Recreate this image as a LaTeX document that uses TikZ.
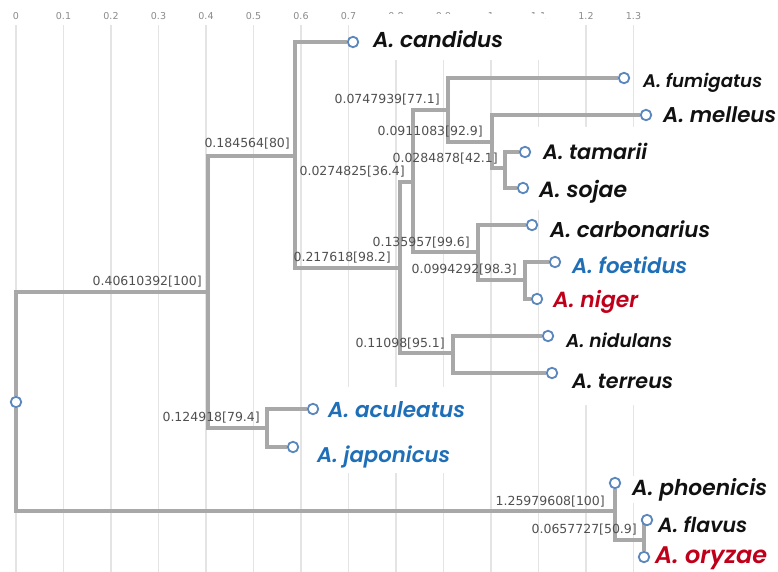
\documentclass[tikz,border=0pt]{standalone}
\usepackage{fontspec}
\usepackage{graphicx}
\setmainfont{DejaVu Sans}
\newfontfamily\spfont{Poppins}[BoldItalicFont={Poppins SemiBold Italic}]
\newfontfamily\numfont{DejaVu Sans}

\definecolor{treegray}{HTML}{A8A8A8}
\definecolor{gridgray}{HTML}{E4E4E4}
\definecolor{tipblue}{HTML}{5A87BD}
\definecolor{spblue}{HTML}{1F6FB8}
\definecolor{spred}{HTML}{C0001A}
\definecolor{spblack}{HTML}{111111}
\definecolor{numgray}{HTML}{505050}
\definecolor{axisgray}{HTML}{8A8A8A}

\pgfdeclarelayer{gridlayer}
\pgfdeclarelayer{masklayer}
\pgfdeclarelayer{treelayer}
\pgfsetlayers{gridlayer,masklayer,treelayer,main}

\tikzset{
  branch/.style={draw=treegray, line width=4pt},
  gridline/.style={draw=gridgray, line width=1.4pt},
  tip/.style={circle, draw=tipblue, fill=white, line width=1.8pt, minimum size=10.5pt, inner sep=0pt},
  taxonlabel/.style={anchor=base west, fill=white, inner sep=2pt},
  brlabel/.style={anchor=east, inner sep=0pt, text=numgray, font=\numfont\fontsize{12.5}{14}\selectfont},
  axislabel/.style={inner sep=0pt, text=axisgray, font=\numfont\fontsize{9.5}{11}\selectfont},
}

% taxon label in bold italic, scaled to span the given width
% #1 name, #2 colour, #3 x, #4 baseline, #5 width, #6 text
\newcommand\taxon[6]{%
  \node[taxonlabel, text=#2] (#1) at (#3,#4)
    {\resizebox{#5pt}{!}{\spfont\bfseries\itshape\fontsize{20}{20}\selectfont #6}};%
}

\begin{document}
\begin{tikzpicture}[x=1pt, y=-1pt]
\useasboundingbox (0,0) rectangle (778,572);

% distance scale: grid lines and their values
\begin{pgfonlayer}{gridlayer}
\foreach \k/\t in {0/0,1/0.1,2/0.2,3/0.3,4/0.4,5/0.5,6/0.6,7/0.7,8/0.8,9/0.9,10/1,11/1.1,12/1.2,13/1.3}{
  \draw[gridline] (16+47.5*\k,25) -- (16+47.5*\k,572);
  \node[axislabel] (ax\k) at (16+47.5*\k,16) {\t};
}
\end{pgfonlayer}

% white text boxes behind the taxon names
\begin{pgfonlayer}{masklayer}
\fill[white] (365,14) rectangle (545,60);
\fill[white] (530,127) -- (778,127) -- (778,405) -- (545,405) -- (545,210) -- (530,210) -- cycle;
\fill[white] (305,387) rectangle (470,473);
\end{pgfonlayer}

% root and internal nodes
\node[tip] (R) at (16,402) {};
\coordinate (A) at (208,292);
\coordinate (B) at (295,156);
\coordinate (C) at (400,268);
\coordinate (D) at (413,182);
\coordinate (E) at (448,110);
\coordinate (F) at (492,142);
\coordinate (G) at (505,168);
\coordinate (H) at (478,252);
\coordinate (I) at (525,280);
\coordinate (J) at (453,353);
\coordinate (K) at (267,428);
\coordinate (L) at (615,511);
\coordinate (M) at (644,540);

% leaves
\node[tip] (tcand) at (353,42) {};
\node[tip] (tfumi) at (624,78) {};
\node[tip] (tmell) at (646,115) {};
\node[tip] (ttama) at (525,152) {};
\node[tip] (tsoja) at (523,188) {};
\node[tip] (tcarb) at (532,225) {};
\node[tip] (tfoet) at (555,262) {};
\node[tip] (tnige) at (537,299) {};
\node[tip] (tnidu) at (548,336) {};
\node[tip] (tterr) at (552,373) {};
\node[tip] (tacul) at (313,409) {};
\node[tip] (tjapo) at (293,447) {};
\node[tip] (tphoe) at (615,483) {};
\node[tip] (tflav) at (647,520) {};
\node[tip] (toryz) at (644,557) {};

% branches
\begin{pgfonlayer}{treelayer}
\draw[branch] (R) |- (A);
\draw[branch] (R) |- (L);
\draw[branch] (A) |- (B);
\draw[branch] (A) |- (K);
\draw[branch] (B) |- (tcand);
\draw[branch] (B) |- (C);
\draw[branch] (C) |- (D);
\draw[branch] (C) |- (J);
\draw[branch] (D) |- (E);
\draw[branch] (D) |- (H);
\draw[branch] (E) |- (tfumi);
\draw[branch] (E) |- (F);
\draw[branch] (F) |- (tmell);
\draw[branch] (F) |- (G);
\draw[branch] (G) |- (ttama);
\draw[branch] (G) |- (tsoja);
\draw[branch] (H) |- (tcarb);
\draw[branch] (H) |- (I);
\draw[branch] (I) |- (tfoet);
\draw[branch] (I) |- (tnige);
\draw[branch] (J) |- (tnidu);
\draw[branch] (J) |- (tterr);
\draw[branch] (K) |- (tacul);
\draw[branch] (K) |- (tjapo);
\draw[branch] (L) -- (tphoe);
\draw[branch] (L) |- (M);
\draw[branch] (M) |- (tflav);
\draw[branch] (M) -- (toryz);
\end{pgfonlayer}

% branch lengths [bootstrap]
\node[brlabel] (bA) at ([shift={(-6,-10)}]A) {0.40610392[100]};
\node[brlabel] (bB) at ([shift={(-5,-12)}]B) {0.184564[80]};
\node[brlabel] (bC) at ([shift={(-9,-10)}]C) {0.217618[98.2]};
\node[brlabel] (bD) at ([shift={(-8,-10)}]D) {0.0274825[36.4]};
\node[brlabel] (bE) at ([shift={(-8,-10)}]E) {0.0747939[77.1]};
\node[brlabel] (bF) at ([shift={(-9,-10)}]F) {0.0911083[92.9]};
\node[brlabel] (bG) at ([shift={(-7,-9)}]G) {0.0284878[42.1]};
\node[brlabel] (bH) at ([shift={(-8,-9)}]H) {0.135957[99.6]};
\node[brlabel] (bI) at ([shift={(-8,-10)}]I) {0.0994292[98.3]};
\node[brlabel] (bJ) at ([shift={(-8,-9)}]J) {0.11098[95.1]};
\node[brlabel] (bK) at ([shift={(-7,-10)}]K) {0.124918[79.4]};
\node[brlabel] (bL) at ([shift={(-10,-9)}]L) {1.25979608[100]};
\node[brlabel] (bM) at ([shift={(-7,-10)}]M) {0.0657727[50.9]};

% taxon names
\taxon{lcand}{spblack}{371}{48}{130}{A. candidus}
\taxon{lfumi}{spblack}{641}{88}{119}{A. fumigatus}
\taxon{lmell}{spblack}{661}{123}{113}{A. melleus}
\taxon{ltama}{spblack}{541}{160}{104}{A. tamarii}
\taxon{lsoja}{spblack}{537}{197}{88}{A. sojae}
\taxon{lcarb}{spblack}{548}{237}{160}{A. carbonarius}
\taxon{lfoet}{spblue}{570}{273}{115}{A. foetidus}
\taxon{lnige}{spred}{551}{307}{85}{A. niger}
\taxon{lnidu}{spblack}{564}{347}{106}{A. nidulans}
\taxon{lterr}{spblack}{570}{388}{101}{A. terreus}
\taxon{lacul}{spblue}{326}{417}{137}{A. aculeatus}
\taxon{ljapo}{spblue}{315}{462}{133}{A. japonicus}
\taxon{lphoe}{spblack}{630}{495}{135}{A. phoenicis}
\taxon{lflav}{spblack}{656}{532}{89}{A. flavus}
\taxon{loryz}{spred}{653}{563}{112}{A. oryzae}
\end{tikzpicture}
\end{document}
